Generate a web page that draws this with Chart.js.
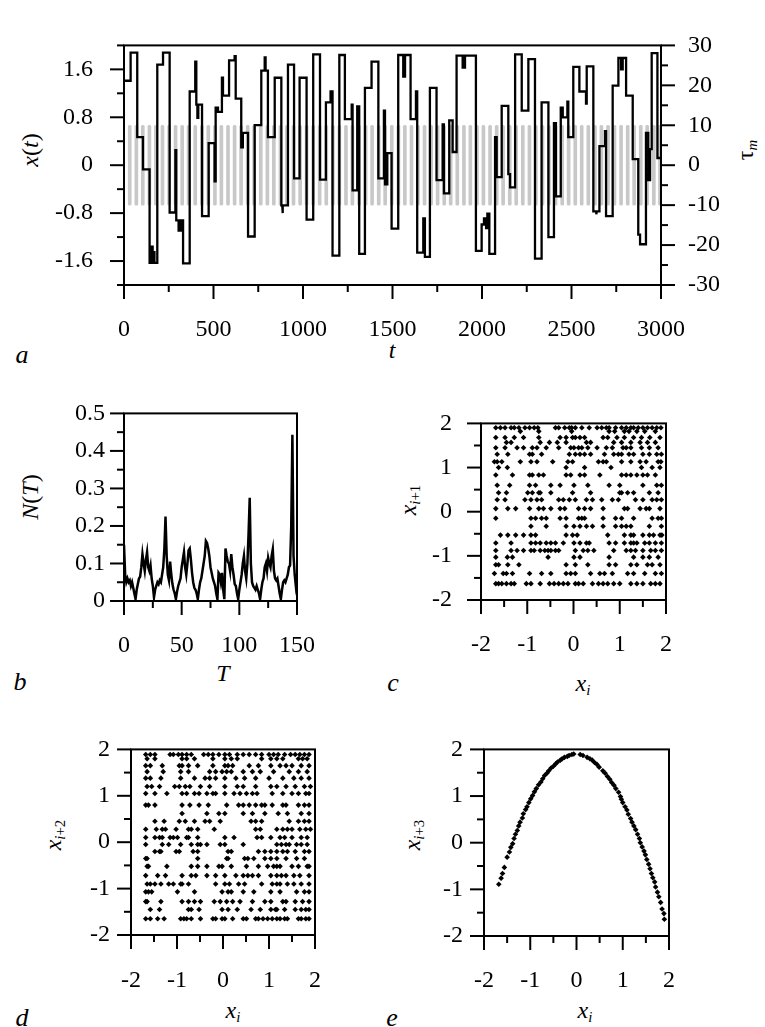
<!DOCTYPE html>
<html><head><meta charset="utf-8">
<script src="https://cdn.jsdelivr.net/npm/chart.js@4"></script>
<style>
html,body{margin:0;padding:0;background:#fff;}
body{width:765px;height:1027px;position:relative;overflow:hidden;font-family:"Liberation Serif","LiberationSerif","Tinos","Times New Roman","Times","Nimbus Roman","Noto Serif","DejaVu Serif","FreeSerif",serif;}
canvas{position:absolute;}
.lbl{position:absolute;font-family:inherit;font-size:24px;color:#000;white-space:nowrap;transform:translate(-50%,-50%);line-height:1;}
.rot{transform:translate(-50%,-50%) rotate(-90deg);}
.lbl sub{font-size:62%;vertical-align:-0.3em;line-height:0;}
.let{font-size:26px;font-style:italic;}
</style></head><body>
<div class="lbl rot" style="left:30px;top:150px;"><i>x</i>(<i>t</i>)</div>
<div class="lbl rot" style="left:745px;top:150px;">τ<sub><i>m</i></sub></div>
<div class="lbl" style="left:392px;top:350px;"><i>t</i></div>
<div class="lbl let" style="left:22px;top:355px;">a</div>
<div class="lbl rot" style="left:30px;top:497px;"><i>N</i>(<i>T</i>)</div>
<div class="lbl" style="left:223px;top:673px;"><i>T</i></div>
<div class="lbl let" style="left:20px;top:682px;">b</div>
<div class="lbl rot" style="left:408px;top:500px;"><i>x</i><sub><i>i</i>+1</sub></div>
<div class="lbl" style="left:583px;top:683px;"><i>x</i><sub><i>i</i></sub></div>
<div class="lbl let" style="left:393px;top:683px;">c</div>
<div class="lbl rot" style="left:53px;top:835px;"><i>x</i><sub><i>i</i>+2</sub></div>
<div class="lbl" style="left:233px;top:1010px;"><i>x</i><sub><i>i</i></sub></div>
<div class="lbl let" style="left:22px;top:1018px;">d</div>
<div class="lbl rot" style="left:412px;top:835px;"><i>x</i><sub><i>i</i>+3</sub></div>
<div class="lbl" style="left:585px;top:1010px;"><i>x</i><sub><i>i</i></sub></div>
<div class="lbl let" style="left:392px;top:1018px;">e</div>
<script>
// ---------- DATA ----------
// panel a: step signal x(t): start times and values
const aT = [0,37,74,106,143,156,160,166,170,186,218,255,287,292,305,317,330,367,398,404,410,415,436,473,506,512,525,547,553,587,618,624,655,664,693,730,767,786,791,804,842,879,884,888,916,950,981,1020,1057,1095,1128,1154,1165,1203,1234,1272,1277,1303,1314,1346,1383,1421,1452,1458,1471,1495,1532,1560,1570,1601,1631,1638,1672,1681,1709,1746,1780,1787,1817,1836,1858,1892,1905,1966,1998,2011,2023,2030,2041,2073,2082,2110,2147,2157,2185,2222,2259,2296,2333,2371,2402,2413,2440,2451,2477,2482,2510,2544,2581,2585,2622,2637,2641,2656,2687,2693,2730,2762,2777,2786,2805,2842,2873,2883,2916,2929,2939,2948,2980];
const aX = [1.41,1.88,0.47,-0.07,-1.63,-1.36,-1.63,-1.45,-1.63,1.68,1.88,-0.79,0.25,-0.92,-1.09,-0.92,-1.64,1.23,1.73,1.01,0.79,1.01,-0.85,0.37,-0.27,0.96,0.89,1.46,1.16,1.75,1.82,1.11,0.30,0.54,-1.19,0.67,1.58,1.80,1.58,0.47,1.46,-0.67,-0.80,-0.67,1.68,-0.22,1.46,-0.91,1.85,-0.24,1.05,1.23,-1.51,1.84,0.77,1.01,-0.42,0.98,-1.48,1.29,1.73,-0.22,0.91,-0.32,0.20,-1.06,1.84,1.48,1.84,0.77,1.23,-1.46,-0.89,-1.53,1.29,-0.25,0.68,-0.47,0.75,0.22,1.83,1.63,1.83,-1.43,-0.99,-0.89,-1.05,-0.81,-1.48,0.47,-0.20,0.99,-0.15,-0.37,1.85,0.91,1.77,-1.56,1.05,-1.20,0.70,-0.52,0.96,0.80,1.06,0.47,1.64,1.23,1.03,1.65,-0.77,-0.82,-0.77,0.32,0.57,-0.85,1.33,1.79,1.60,1.79,1.16,0.10,-1.16,-1.32,0.54,-0.25,0.27,1.87,0.12];
const aTEnd = 3000;
// panel a: modulation tau_m(t): positions of the swing strokes, swing range
const tauT = [32,69,105,142,178,215,252,288,325,361,398,435,471,508,544,581,618,654,691,727,764,801,837,874,910,947,984,1020,1057,1093,1130,1167,1203,1240,1276,1313,1350,1386,1423,1459,1496,1533,1569,1606,1642,1679,1716,1752,1789,1825,1862,1899,1935,1972,2008,2045,2082,2118,2155,2191,2228,2265,2301,2338,2374,2411,2448,2484,2521,2557,2594,2631,2667,2704,2740,2777,2814,2850,2887,2923,2960,2994];
const tauMin = -10, tauMax = 10;
// panel b: N(T), T = 0..150
const bN = [0.15,0.07,0.05,0.06,0.05,0.055,0.04,0.05,0.035,0.02, 0.005,0.03,0.045,0.06,0.065,0.09,0.125,0.10,0.08,0.11, 0.13,0.09,0.08,0.095,0.06,0.04,0.01,0.03,0.04,0.05, 0.045,0.055,0.05,0.07,0.09,0.14,0.225,0.12,0.07,0.055, 0.105,0.07,0.045,0.03,0.02,0.005,0.025,0.04,0.05,0.06, 0.09,0.11,0.13,0.09,0.07,0.10,0.135,0.14,0.11,0.075, 0.05,0.035,0.03,0.02,0.005,0.03,0.05,0.06,0.08,0.10, 0.12,0.16,0.155,0.14,0.12,0.09,0.075,0.06,0.05,0.04, 0.02,0.005,0.075,0.07,0.05,0.075,0.03,0.005,0.14,0.12, 0.105,0.10,0.08,0.125,0.09,0.07,0.045,0.04,0.02,0.005, 0.03,0.05,0.07,0.10,0.12,0.08,0.06,0.10,0.18,0.275, 0.10,0.05,0.04,0.035,0.03,0.04,0.03,0.02,0.005,0.03, 0.05,0.06,0.09,0.10,0.08,0.115,0.10,0.09,0.12,0.138, 0.08,0.06,0.055,0.06,0.04,0.02,0.005,0.03,0.05,0.055, 0.05,0.06,0.07,0.09,0.095,0.20,0.443,0.12,0.07,0.04, 0.06];
// panel c: return map x_{i+1} vs x_i (rows by y)
const cY = [1.90,1.82,1.68,1.57,1.45,1.30,1.13,1.00,0.83,0.60,0.43,0.27,0.07,-0.15,-0.33,-0.53,-0.71,-0.88,-1.03,-1.20,-1.40,-1.63];
const cX = [
[-1.68,-1.58,-1.48,-1.35,-1.28,-1.18,-1.05,-0.95,-0.85,-0.77,-0.39,-0.32,-0.19,-0.09,-0.04,0.04,0.18,0.34,0.51,0.61,0.71,0.77,0.91,1.04,1.14,1.24,1.30,1.40,1.50,1.60,1.70,1.80,1.89],
[-1.15,-0.75,-0.04,0.77,0.89,1.10,1.20,1.37,1.54,1.77],
[-1.68,-1.48,-1.28,-1.08,-0.75,-0.29,-0.16,-0.02,0.04,0.14,0.24,0.64,0.74,0.94,1.10,1.30,1.47,1.65,1.87],
[-1.45,-1.35,-0.72,-0.52,-0.35,-0.16,0.28,0.37,0.87,1.04,1.24,1.44,1.60,1.77],
[-1.68,-1.48,-1.22,-1.08,-0.89,-0.79,-0.59,-0.32,-0.06,0.01,0.11,0.18,0.31,0.51,0.71,0.84,1.07,1.14,1.24,1.47,1.64,1.83],
[-1.65,-1.42,-0.95,-0.89,-0.69,-0.09,0.04,0.14,0.24,0.37,0.67,0.87,0.97,1.04,1.20,1.30,1.50,1.64,1.80,1.90],
[-1.71,-1.65,-1.55,-1.15,-0.92,-0.79,-0.45,-0.12,-0.02,0.54,0.64,0.71,1.04,1.24,1.44,1.57,1.83,1.89],
[-1.62,-1.43,-0.16,0.24,0.81,1.47,1.70,1.87],
[-1.68,-1.32,-0.95,-0.89,-0.75,-0.65,-0.16,-0.06,0.14,0.24,0.57,1.04,1.14,1.24,1.37,1.50,1.60,1.77],
[-1.65,-1.38,-0.95,-0.82,-0.49,-0.29,0.01,0.31,0.77,1.00,1.50,1.80,1.90],
[-1.62,-1.45,-0.99,-0.89,-0.75,-0.72,-0.49,-0.02,0.37,1.00,1.04,1.17,1.30,1.64,1.83],
[-1.65,-1.48,-1.05,-0.92,-0.79,-0.69,-0.32,-0.22,-0.09,0.04,0.28,0.41,0.61,0.84,0.97,1.34,1.50,1.70,1.80,1.90],
[-1.68,-1.42,-1.25,-0.95,-0.75,-0.65,-0.49,-0.29,-0.19,0.11,0.24,0.37,0.64,1.10,1.17,1.44,1.57,1.64,1.87],
[-1.68,-0.92,-0.82,-0.69,-0.59,-0.29,-0.16,0.11,0.18,0.24,0.64,0.91,1.04,1.30,1.70,1.83,1.90],
[-0.92,-0.59,-0.16,0.01,0.14,0.28,0.41,0.64,0.91,1.04,1.14,1.24,1.64,1.90],
[-1.58,-1.42,-1.25,-1.08,-0.92,-0.82,-0.16,-0.02,0.08,0.74,1.10,1.24,1.30,1.50,1.64,1.73,1.87,1.91],
[-1.68,-1.35,-0.92,-0.82,-0.72,-0.59,-0.49,-0.39,-0.22,0.01,0.14,0.28,0.34,0.77,0.91,1.10,1.24,1.30,1.37,1.54,1.64,1.77,1.90],
[-1.68,-1.35,-1.22,-1.08,-0.92,-0.85,-0.72,-0.62,-0.55,-0.49,-0.39,-0.32,0.04,0.21,0.31,0.44,0.87,1.14,1.24,1.34,1.50,1.67,1.77,1.90],
[-1.68,-1.43,-1.32,-0.55,0.01,0.14,0.77,1.30,1.50,1.64,1.83],
[-1.68,-1.62,-1.42,-1.18,-0.16,0.04,0.31,0.77,0.91,1.24,1.37,1.60,1.70,1.87],
[-1.71,-1.52,-1.45,-1.32,-0.95,-0.69,-0.49,-0.16,-0.06,0.04,0.37,0.57,0.67,0.84,1.17,1.30,1.54,1.77,1.90],
[-1.68,-1.62,-1.55,-1.45,-1.35,-1.28,-1.02,-0.92,-0.72,-0.52,-0.42,-0.32,-0.22,-0.12,0.04,0.11,0.21,0.41,0.54,0.64,0.74,0.87,1.00,1.24,1.37,1.50,1.67,1.77,1.87]
];
// panel d: x_{i+2} vs x_i (rows by y)
const dY = [1.89,1.80,1.65,1.52,1.38,1.20,1.05,0.80,0.62,0.45,0.28,0.10,-0.05,-0.20,-0.35,-0.52,-0.72,-0.90,-1.07,-1.28,-1.45,-1.65];
const dX = [
[-1.68,-1.58,-1.48,-1.15,-1.08,-0.97,-0.89,-0.79,-0.69,-0.42,-0.32,-0.22,-0.09,0.04,0.14,0.31,0.44,0.57,0.71,0.84,1.00,1.10,1.20,1.34,1.47,1.57,1.67,1.77,1.87],
[-1.65,-1.48,-0.89,-0.79,-0.62,-0.22,0.04,0.18,0.31,0.84,1.04,1.17,1.30,1.64,1.73,1.83],
[-1.68,-1.58,-1.32,-0.95,-0.89,-0.75,-0.55,-0.22,0.04,0.11,0.21,0.57,0.77,1.04,1.24,1.37,1.50,1.70,1.87],
[-1.65,-1.30,-0.92,-0.75,-0.29,-0.16,-0.02,0.08,0.18,0.44,0.64,0.81,1.10,1.44,1.64,1.83],
[-1.68,-1.58,-1.35,-0.92,-0.62,-0.39,-0.29,-0.16,0.04,0.28,0.47,0.71,1.00,1.30,1.54,1.70,1.87],
[-1.65,-1.55,-1.38,-1.05,-0.95,-0.82,-0.72,-0.49,-0.29,0.04,0.31,0.44,0.71,1.04,1.17,1.37,1.57,1.77,1.90],
[-1.68,-1.48,-1.22,-0.89,-0.79,-0.62,-0.52,-0.35,-0.22,-0.16,0.04,0.24,0.37,0.51,0.64,0.74,1.07,1.30,1.50,1.64,1.80,1.87],
[-1.68,-1.62,-1.48,-0.89,-0.72,-0.52,-0.32,0.08,0.34,0.44,0.57,0.71,0.84,0.91,1.07,1.30,1.37,1.64,1.77,1.87],
[-0.89,-0.35,-0.09,0.04,0.44,0.64,0.91,1.20,1.40,1.70,1.87],
[-1.48,-1.28,-0.95,-0.82,-0.62,-0.39,-0.29,-0.06,0.61,0.71,0.84,1.44,1.64,1.77,1.87],
[-1.68,-1.45,-1.32,-1.25,-1.02,-0.75,-0.69,-0.55,-0.19,0.71,0.81,1.17,1.30,1.40,1.50,1.67,1.80,1.90],
[-1.68,-1.48,-1.38,-1.32,-1.15,-1.08,-0.99,-0.79,-0.75,-0.55,0.04,0.24,0.74,0.84,1.04,1.24,1.34,1.50,1.70,1.83],
[-1.68,-1.32,-1.18,-0.92,-0.69,-0.55,-0.49,-0.35,-0.06,0.04,0.44,1.17,1.27,1.37,1.44,1.60,1.70,1.83],
[-1.48,-1.38,-1.35,-1.02,-0.95,-0.65,-0.55,0.11,0.18,0.77,0.91,1.04,1.17,1.30,1.40,1.57,1.77,1.87],
[-1.68,-1.65,-0.55,0.08,0.11,0.47,0.54,0.67,0.91,1.04,1.17,1.37,1.60,1.77],
[-1.65,-1.62,-1.22,-0.69,-0.55,-0.35,-0.09,-0.02,0.18,0.51,0.77,0.97,1.10,1.17,1.24,1.50,1.64,1.83,1.87],
[-1.68,-1.42,-1.25,-0.89,-0.69,-0.59,-0.35,-0.16,0.04,0.28,0.44,0.54,0.64,0.77,1.04,1.17,1.27,1.37,1.54,1.67,1.87],
[-1.65,-1.58,-1.48,-1.35,-1.18,-1.08,-0.92,-0.89,-0.75,-0.16,0.04,0.14,0.34,0.47,0.84,1.07,1.17,1.24,1.40,1.54,1.70,1.87],
[-1.68,-1.62,-1.55,-0.99,-0.62,-0.02,0.11,0.18,0.44,0.67,1.04,1.24,1.60,1.77,1.87],
[-1.68,-1.65,-1.35,-0.89,-0.75,-0.62,-0.49,-0.19,-0.06,0.08,0.21,0.37,0.64,0.91,1.04,1.30,1.37,1.57,1.73,1.87],
[-1.58,-1.38,-0.75,-0.69,-0.52,-0.02,0.11,0.31,0.61,0.81,1.04,1.14,1.17,1.34,1.57,1.70,1.80,1.87],
[-1.68,-1.58,-1.42,-1.28,-0.92,-0.85,-0.79,-0.69,-0.49,-0.22,-0.16,-0.02,0.04,0.21,0.44,0.51,0.71,0.77,0.87,0.97,1.07,1.17,1.24,1.34,1.40,1.64,1.70,1.80,1.87]
];
// panel e: x_{i+3} vs x_i
const eX = [-1.68,-1.63,-1.60,-1.56,-1.50,-1.45,-1.42,-1.38,-1.35,-1.32,-1.28,-1.25,-1.22,-1.17,-1.15,-1.10,-1.07,-1.03,-0.99,-0.95,-0.91,-0.87,-0.82,-0.77,-0.73,-0.69,-0.64,-0.60,-0.55,-0.50,-0.45,-0.41,-0.35,-0.31,-0.26,-0.20,-0.16,-0.10,-0.06,0.08,0.14,0.23,0.29,0.34,0.39,0.44,0.49,0.57,0.62,0.67,0.72,0.76,0.81,0.85,0.91,0.95,0.97,1.00,1.05,1.09,1.12,1.17,1.20,1.24,1.28,1.32,1.36,1.38,1.42,1.46,1.49,1.52,1.56,1.59,1.62,1.65,1.69,1.71,1.75,1.78,1.82,1.85,1.89,1.90];
const eY = [-0.89,-0.76,-0.66,-0.53,-0.31,-0.20,-0.10,-0.02,0.09,0.18,0.26,0.36,0.44,0.53,0.62,0.71,0.77,0.86,0.94,1.01,1.09,1.16,1.24,1.30,1.37,1.44,1.49,1.54,1.60,1.64,1.69,1.73,1.77,1.80,1.83,1.85,1.87,1.89,1.90,1.89,1.87,1.83,1.80,1.77,1.72,1.68,1.62,1.54,1.49,1.42,1.36,1.29,1.23,1.16,1.08,0.99,0.93,0.86,0.77,0.70,0.61,0.52,0.44,0.36,0.28,0.18,0.09,0.00,-0.09,-0.18,-0.26,-0.36,-0.46,-0.56,-0.66,-0.75,-0.84,-0.95,-1.06,-1.16,-1.28,-1.42,-1.52,-1.64];
// tick values
const aXLabels = [0,500,1000,1500,2000,2500,3000];
const aXMinor = [250,750,1250,1750,2250,2750];
const aYLabels = [-1.6,-0.8,0,0.8,1.6];
const aYMinor = [-2,-1.2,-0.4,0.4,1.2,2];
const aY2Labels = [-30,-20,-10,0,10,20,30];
const aY2Minor = [-25,-15,-5,5,15,25];
const bXLabels = [0,50,100,150];
const bXMinor = [25,75,125];
const bYLabels = [0,0.1,0.2,0.3,0.4,0.5];
const bYMinor = [0.05,0.15,0.25,0.35,0.45];
const mapLabels = [-2,-1,0,1,2];
const mapMinor = [-1.5,-0.5,0.5,1.5];

// ---------- RENDERING ----------
Chart.defaults.font.family = '"Liberation Serif", LiberationSerif, Tinos, "Times New Roman", Times, "Nimbus Roman", "Noto Serif", "DejaVu Serif", FreeSerif, serif';
Chart.defaults.color = '#000';
const FONT = {size: 24};

const framePlugin = {
  id: 'frame',
  afterDatasetsDraw(chart, args, o) {
    const ctx = chart.ctx, a = chart.chartArea;
    ctx.save();
    ctx.strokeStyle = '#000'; ctx.lineWidth = 2; ctx.lineCap = 'butt';
    ctx.strokeRect(a.left, a.top, a.right - a.left, a.bottom - a.top);
    (o.axes || []).forEach(ax => {
      const s = chart.scales[ax.id];
      const draw = (vals, len) => vals.forEach(v => {
        const p = s.getPixelForValue(v);
        ctx.beginPath();
        if (ax.side === 'bottom') { ctx.moveTo(p, a.bottom); ctx.lineTo(p, a.bottom + len); }
        else if (ax.side === 'left') { ctx.moveTo(a.left, p); ctx.lineTo(a.left - len, p); }
        else { ctx.moveTo(a.right, p); ctx.lineTo(a.right + len, p); }
        ctx.stroke();
      });
      draw(ax.major, 14); draw(ax.minor, 7);
    });
    ctx.restore();
  }
};

function mkCanvas(left, top, w, h) {
  const c = document.createElement('canvas');
  c.width = w; c.height = h;
  c.style.left = left + 'px'; c.style.top = top + 'px';
  c.style.width = w + 'px'; c.style.height = h + 'px';
  document.body.appendChild(c);
  return c.getContext('2d');
}

function axis(pos, min, max, labels, size, pad) {
  const horiz = pos === 'bottom';
  return {
    type: 'linear', position: pos, min, max, offset: false,
    afterFit: s => { if (horiz) s.height = size; else s.width = size; },
    afterBuildTicks: s => { s.ticks = labels.map(v => ({value: v})); },
    ticks: {padding: pad, font: FONT, color: '#000', autoSkip: false, maxRotation: 0, minRotation: 0,
      callback: v => String(v)},
    grid: {display: false, drawTicks: false, offset: false},
    border: {display: false}
  };
}

function baseOptions(pad, scales, axes) {
  return {
    responsive: false, animation: false, devicePixelRatio: 1,
    layout: {padding: pad},
    plugins: {legend: {display: false}, tooltip: {enabled: false}, frame: {axes}},
    scales
  };
}

// Panel a
(function(){
  const pts = [];
  aT.forEach((t, i) => {
    const next = i + 1 < aT.length ? aT[i + 1] : aTEnd;
    pts.push({x: t, y: aX[i]}); pts.push({x: next, y: aX[i]});
  });
  const tau = tauT.map(t => ({x: t, y: [tauMin, tauMax]}));
  new Chart(mkCanvas(0, 0, 765, 350), {
    type: 'line',
    data: {datasets: [
      {data: pts, borderColor: '#000', borderWidth: 2.3, pointRadius: 0, tension: 0, yAxisID: 'y', xAxisID: 'x'},
      {type: 'bar', data: tau, backgroundColor: '#c8c8c8', borderWidth: 0, barThickness: 3, borderRadius: 1.5, borderSkipped: false, grouped: false, yAxisID: 'y2', xAxisID: 'x'}
    ]},
    options: baseOptions({top: 15, left: 0, right: 0, bottom: 0}, {
      x: axis('bottom', 0, 3000, aXLabels, 65, 30),
      y: axis('left', -2, 2, aYLabels, 124, 31),
      y2: axis('right', -30, 30, aY2Labels, 104, 27)
    }, [
      {id: 'x', side: 'bottom', major: aXLabels, minor: aXMinor},
      {id: 'y', side: 'left', major: aYLabels, minor: aYMinor},
      {id: 'y2', side: 'right', major: aY2Labels, minor: aY2Minor}
    ]),
    plugins: [framePlugin]
  });
})();

// Panel b
(function(){
  const pts = bN.map((v, i) => ({x: i, y: v}));
  new Chart(mkCanvas(0, 380, 345, 281), {
    type: 'line',
    data: {datasets: [{data: pts, borderColor: '#000', borderWidth: 2.5, pointRadius: 0, tension: 0}]},
    options: baseOptions({top: 21, left: 0, right: 20, bottom: 0}, {
      x: axis('bottom', 0, 150, bXLabels, 60, 30),
      y: axis('left', 0, 0.5, bYLabels, 124, 19)
    }, [
      {id: 'x', side: 'bottom', major: bXLabels, minor: bXMinor},
      {id: 'y', side: 'left', major: bYLabels, minor: bYMinor}
    ]),
    plugins: [framePlugin]
  });
})();

function scatterPanel(left, top, plotH, padLeft, padBottom, pts) {
  new Chart(mkCanvas(left, top, 321, 20 + plotH + 60), {
    type: 'scatter',
    data: {datasets: [{data: pts, pointStyle: 'rectRot', pointRadius: 2.8, backgroundColor: '#000', borderWidth: 0}]},
    options: baseOptions({top: 20, left: 0, right: 20, bottom: 0}, {
      x: axis('bottom', -2, 2, mapLabels, 60, padBottom),
      y: axis('left', -2, 2, mapLabels, 100, padLeft)
    }, [
      {id: 'x', side: 'bottom', major: mapLabels, minor: mapMinor},
      {id: 'y', side: 'left', major: mapLabels, minor: mapMinor}
    ]),
    plugins: [framePlugin]
  });
}
const rowsToPts = (ys, xs) => ys.flatMap((y, i) => xs[i].map(x => ({x, y})));
scatterPanel(381, 380, 200, 29, 30, rowsToPts(cY, cX));
scatterPanel(31, 714, 201, 21, 31, rowsToPts(dY, dX));
scatterPanel(384, 714, 202, 21, 30, eX.map((x, i) => ({x, y: eY[i]})));
</script>
</body></html>
